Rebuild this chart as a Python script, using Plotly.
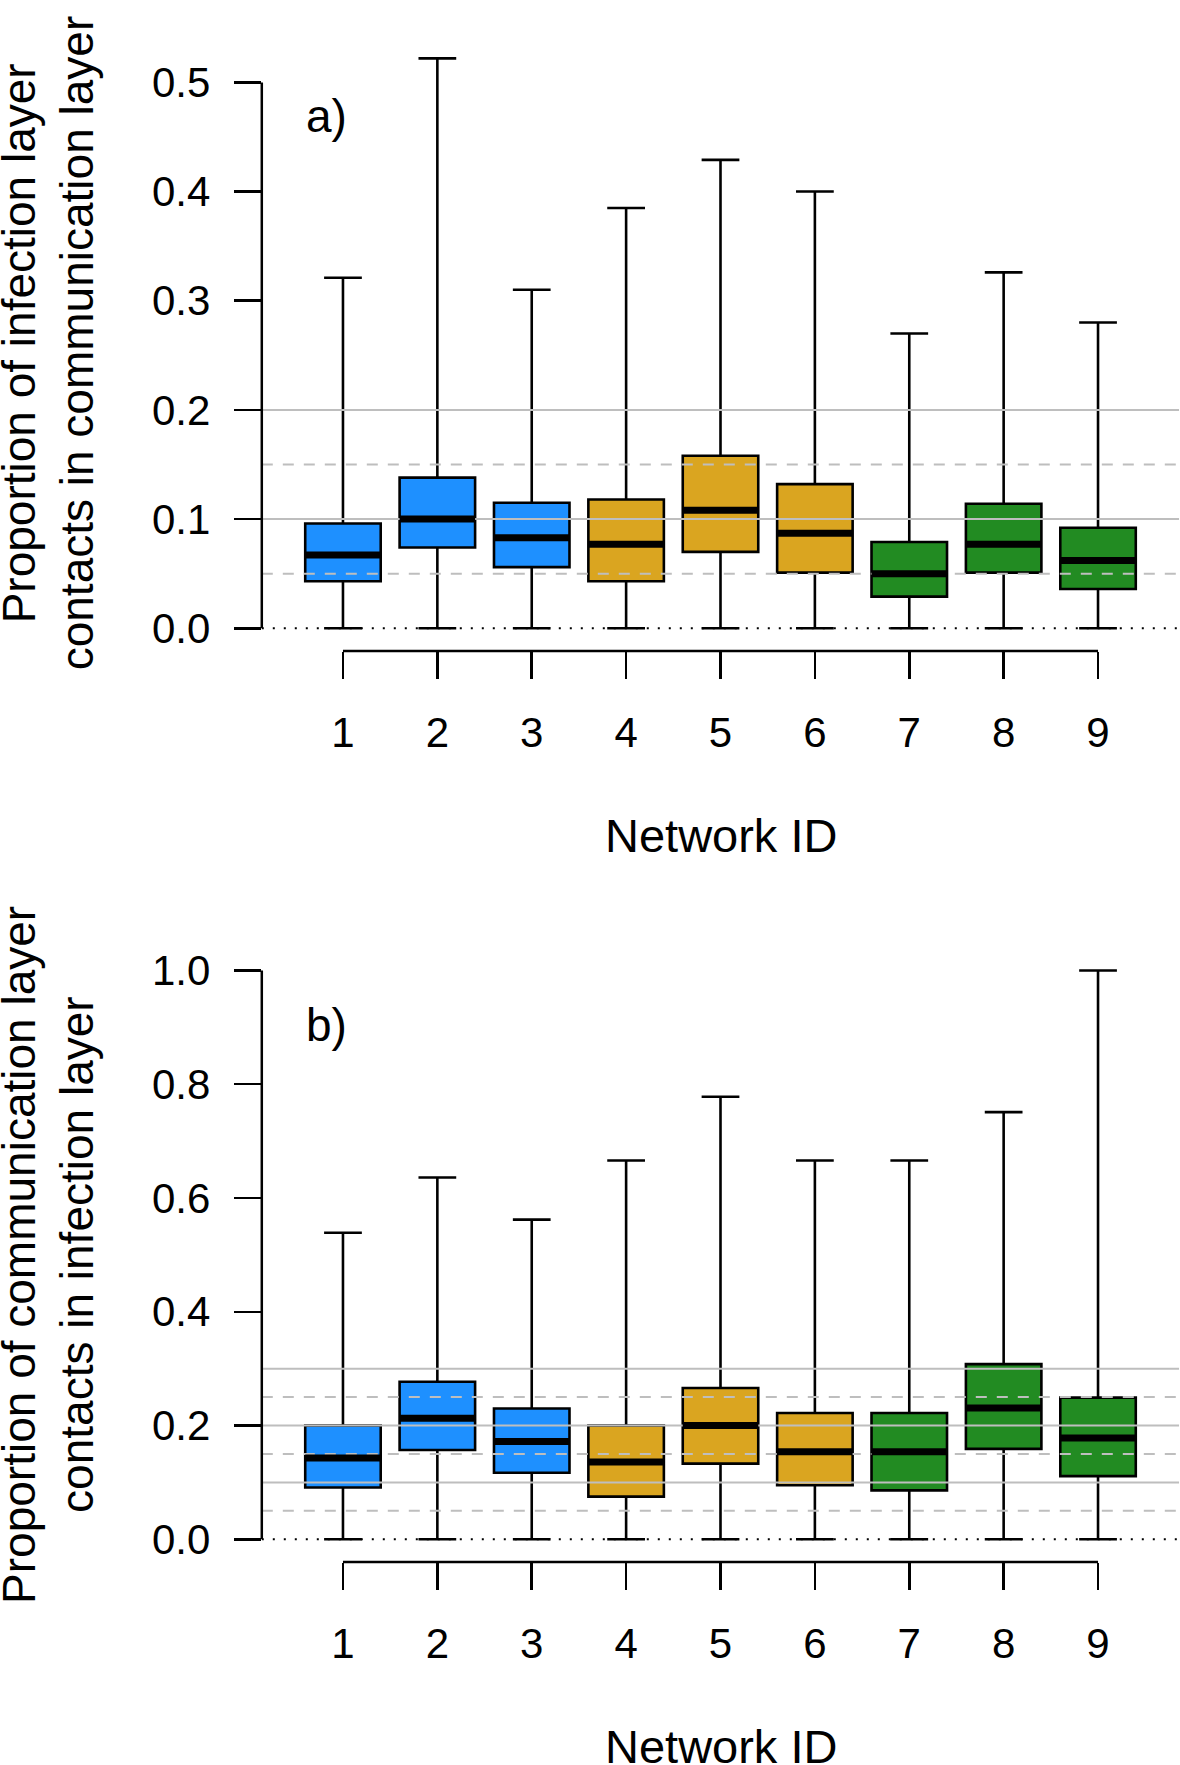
import plotly.graph_objects as go

# ---------------- data ----------------
networks = [1, 2, 3, 4, 5, 6, 7, 8, 9]
tick_labels_x = [str(n) for n in networks]
group_colors = ["#1E90FF", "#DAA520", "#228B22"]   # dodgerblue, goldenrod, forestgreen
group_members = [[0, 1, 2], [3, 4, 5], [6, 7, 8]]

# panel a: proportion of infection layer contacts in communication layer
a_low = [0, 0, 0, 0, 0, 0, 0, 0, 0]
a_q1 = [0.043, 0.074, 0.056, 0.043, 0.070, 0.051, 0.029, 0.051, 0.036]
a_med = [0.067, 0.100, 0.083, 0.077, 0.108, 0.087, 0.050, 0.077, 0.062]
a_q3 = [0.096, 0.138, 0.115, 0.118, 0.158, 0.132, 0.079, 0.114, 0.092]
a_high = [0.321, 0.522, 0.310, 0.385, 0.429, 0.400, 0.270, 0.326, 0.280]
a_ticks = [0.0, 0.1, 0.2, 0.3, 0.4, 0.5]
a_solid = [0.1, 0.2]
a_dashed = [0.05, 0.15]

# panel b: proportion of communication layer contacts in infection layer
b_low = [0, 0, 0, 0, 0, 0, 0, 0, 0]
b_q1 = [0.091, 0.157, 0.117, 0.075, 0.133, 0.095, 0.086, 0.159, 0.111]
b_med = [0.143, 0.213, 0.172, 0.136, 0.200, 0.154, 0.154, 0.231, 0.178]
b_q3 = [0.200, 0.277, 0.230, 0.200, 0.266, 0.222, 0.222, 0.308, 0.249]
b_high = [0.539, 0.636, 0.562, 0.666, 0.778, 0.666, 0.666, 0.751, 1.0]
b_ticks = [0.0, 0.2, 0.4, 0.6, 0.8, 1.0]
b_solid = [0.1, 0.2, 0.3]
b_dashed = [0.05, 0.15, 0.25]

titles_y = [["Proportion of infection layer", "contacts in communication layer"],
            ["Proportion of communication layer", "contacts in infection layer"]]
panel_tags = ["a)", "b)"]
x_title = "Network ID"

# ---------------- layout geometry ----------------
W, H = 1180, 1765
FONT = "Arial, 'Liberation Sans', Helvetica, sans-serif"
BOXW = 0.8


def r_range(lo, hi):
    pad = 0.04 * (hi - lo)
    return [lo - pad, hi + pad]


x_range = r_range(0.5, len(networks) + 0.5)
x_dom = [261.8 / W, 1179.2 / W]
ya_range = r_range(min(a_low), max(a_high))
yb_range = r_range(min(b_low), max(b_high))
ya_dom = [1 - 650.8 / H, 1 - 34.6 / H]
yb_dom = [1 - 1562.8 / H, 1 - 947.8 / H]


def to_paper(v, rng, dom):
    return dom[0] + (v - rng[0]) / (rng[1] - rng[0]) * (dom[1] - dom[0])


fig = go.Figure()

panels = [
    dict(low=a_low, q1=a_q1, med=a_med, q3=a_q3, high=a_high, ticks=a_ticks,
         solid=a_solid, dashed=a_dashed, xa="x", ya="y", yrng=ya_range, ydom=ya_dom,
         tag_y=0.469, title_y=1 - 835 / H),
    dict(low=b_low, q1=b_q1, med=b_med, q3=b_q3, high=b_high, ticks=b_ticks,
         solid=b_solid, dashed=b_dashed, xa="x2", ya="y2", yrng=yb_range, ydom=yb_dom,
         tag_y=0.905, title_y=1 - 1747 / H),
]


def hlines(vals):
    xs, ys = [], []
    for v in vals:
        xs += [x_range[0], x_range[1], None]
        ys += [v, v, None]
    return xs, ys


shapes = []
annotations = []
for pi, p in enumerate(panels):
    # reference lines
    xs, ys = hlines(p["solid"])
    fig.add_trace(go.Scatter(x=xs, y=ys, mode="lines", xaxis=p["xa"], yaxis=p["ya"],
                             line=dict(color="#BEBEBE", width=2), hoverinfo="skip", showlegend=False))
    xs, ys = hlines(p["dashed"])
    fig.add_trace(go.Scatter(x=xs, y=ys, mode="lines", xaxis=p["xa"], yaxis=p["ya"],
                             line=dict(color="#BEBEBE", width=2, dash="11px,10px"),
                             hoverinfo="skip", showlegend=False))
    xs, ys = hlines([0.0])
    fig.add_trace(go.Scatter(x=xs, y=ys, mode="lines", xaxis=p["xa"], yaxis=p["ya"],
                             line=dict(color="black", width=2, dash="2px,9px"),
                             hoverinfo="skip", showlegend=False))
    # boxes
    for gi, members in enumerate(group_members):
        fig.add_trace(go.Box(
            x=[networks[i] for i in members],
            q1=[p["q1"][i] for i in members],
            median=[p["med"][i] for i in members],
            q3=[p["q3"][i] for i in members],
            lowerfence=[p["low"][i] for i in members],
            upperfence=[p["high"][i] for i in members],
            fillcolor=group_colors[gi],
            line=dict(color="black", width=2.6),
            width=BOXW, whiskerwidth=0.5, boxpoints=False,
            xaxis=p["xa"], yaxis=p["ya"], hoverinfo="skip", showlegend=False))
    # thick medians
    mx, my = [], []
    for i, n in enumerate(networks):
        mx += [n - BOXW / 2, n + BOXW / 2, None]
        my += [p["med"][i], p["med"][i], None]
    fig.add_trace(go.Scatter(x=mx, y=my, mode="lines", xaxis=p["xa"], yaxis=p["ya"],
                             line=dict(color="black", width=7), hoverinfo="skip", showlegend=False))

    # axis lines (R style: only between extreme ticks)
    shapes.append(dict(type="line", xref="paper", yref="paper",
                       x0=x_dom[0], x1=x_dom[0],
                       y0=to_paper(p["ticks"][0], p["yrng"], p["ydom"]),
                       y1=to_paper(p["ticks"][-1], p["yrng"], p["ydom"]),
                       line=dict(color="black", width=2.5)))
    shapes.append(dict(type="line", xref="paper", yref="paper",
                       x0=to_paper(networks[0], x_range, x_dom),
                       x1=to_paper(networks[-1], x_range, x_dom),
                       y0=p["ydom"][0], y1=p["ydom"][0],
                       line=dict(color="black", width=2.5)))

    # texts
    ydref = ("y" if pi == 0 else "y2") + " domain"
    for li, (txt, xc) in enumerate(zip(titles_y[pi], [19, 77])):
        annotations.append(dict(text=txt, xref="paper", yref=ydref, x=xc / W, y=0.5,
                                xanchor="center", yanchor="middle", textangle=-90,
                                showarrow=False, font=dict(size=46, color="black", family=FONT)))
    annotations.append(dict(text=panel_tags[pi], xref=p["xa"], yref=p["ya"], x=0.59, y=p["tag_y"],
                            xanchor="left", yanchor="middle", showarrow=False,
                            font=dict(size=46, color="black", family=FONT)))
    annotations.append(dict(text=x_title, xref=p["xa"], yref="paper", x=5, y=p["title_y"],
                            xanchor="center", yanchor="middle", showarrow=False,
                            font=dict(size=47, color="black", family=FONT)))

axis_common = dict(showline=False, showgrid=False, zeroline=False, ticks="outside",
                   ticklen=27, tickwidth=2.5, tickcolor="black",
                   tickfont=dict(size=42, color="black", family=FONT))

fig.update_layout(
    width=W, height=H, margin=dict(l=0, r=0, t=0, b=0),
    paper_bgcolor="white", plot_bgcolor="white",
    boxmode="overlay", showlegend=False,
    font=dict(family=FONT, color="black"),
    xaxis=dict(domain=x_dom, range=x_range, anchor="y", tickvals=networks,
               ticktext=tick_labels_x, ticklabelstandoff=18, **axis_common),
    yaxis=dict(domain=ya_dom, range=ya_range, anchor="x", tickvals=a_ticks,
               ticktext=[f"{v:.1f}" for v in a_ticks], ticklabelstandoff=15, **axis_common),
    xaxis2=dict(domain=x_dom, range=x_range, anchor="y2", tickvals=networks,
                ticktext=tick_labels_x, ticklabelstandoff=18, **axis_common),
    yaxis2=dict(domain=yb_dom, range=yb_range, anchor="x2", tickvals=b_ticks,
                ticktext=[f"{v:.1f}" for v in b_ticks], ticklabelstandoff=15, **axis_common),
    shapes=shapes, annotations=annotations,
)

fig.write_html("out.html", config={"displayModeBar": False, "staticPlot": True},
               post_script="document.body.style.margin='0px';")
